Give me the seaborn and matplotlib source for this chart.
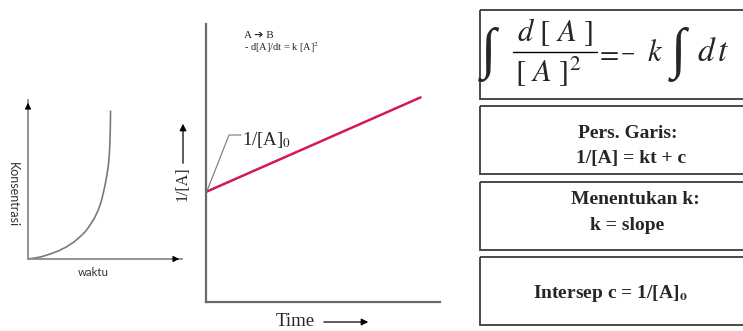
import matplotlib
matplotlib.use('Agg')
import matplotlib.pyplot as plt
import seaborn as sns
from matplotlib.patches import Rectangle

# Values (arbitrary units, axes run 0..10)
waktu = [0, 0.8, 1.43, 2.0, 2.51, 3.0, 3.38, 3.75, 4.03, 4.32, 4.56, 4.75,
         4.89, 5.01, 5.11, 5.2, 5.26, 5.3, 5.32, 5.34, 5.35, 5.36]
konsentrasi = [0, 0.12, 0.31, 0.52, 0.77, 1.08, 1.40, 1.75, 2.14, 2.58, 3.08,
               3.60, 4.15, 4.68, 5.20, 5.75, 6.29, 6.90, 7.48, 8.0, 8.53, 9.30]

time_vals = [0, 9.17]
inv_conc = [3.96, 7.36]

box_texts = [
    ['Pers. Garis:', '1/[A] = kt + c'],
    ['Menentukan k:', 'k = slope'],
    [r'Intersep c = 1/[A]$_{\mathbf{o}}$'],
]

sns.set_style('white')
plt.rcParams['mathtext.fontset'] = 'stix'
plt.rcParams['font.family'] = ['Liberation Serif', 'DejaVu Sans']

W, H = 743, 331
fig = plt.figure(figsize=(W / 100, H / 100), dpi=100)


def px_box(x0, y0, x1, y1):
    # pixel box (top-left origin) -> figure fraction
    return [x0 / W, 1 - y1 / H, (x1 - x0) / W, (y1 - y0) / H]


# small left chart: konsentrasi vs waktu
ax_l = fig.add_axes(px_box(28, 100, 182, 259))
sns.lineplot(x=waktu, y=konsentrasi, ax=ax_l, color='#7a7a7a', lw=1.2,
             sort=False, estimator=None)
ax_l.set_xlim(0, 10)
ax_l.set_ylim(0, 10)
ax_l.set_xticks([])
ax_l.set_yticks([])
for s in ['top', 'right']:
    ax_l.spines[s].set_visible(False)
for s in ['left', 'bottom']:
    ax_l.spines[s].set_color('#8a8a8a')
    ax_l.spines[s].set_linewidth(1.3)
ax_l.annotate('', xy=(0, 1.0), xytext=(0, 0.93), xycoords='axes fraction',
              arrowprops=dict(arrowstyle='-|>', color='black', lw=0.8,
                              mutation_scale=9))
ax_l.annotate('', xy=(1.0, 0), xytext=(0.93, 0), xycoords='axes fraction',
              arrowprops=dict(arrowstyle='-|>', color='black', lw=0.8,
                              mutation_scale=9))
ax_l.patch.set_alpha(0)

# middle chart: 1/[A] vs time
ax_m = fig.add_axes(px_box(206, 24, 440, 302))
sns.lineplot(x=time_vals, y=inv_conc, ax=ax_m, color='#d31a4f', lw=1.8)
ax_m.set_xlim(0, 10)
ax_m.set_ylim(0, 10)
ax_m.set_xticks([])
ax_m.set_yticks([])
for s in ['top', 'right']:
    ax_m.spines[s].set_visible(False)
for s in ['left', 'bottom']:
    ax_m.spines[s].set_color('#6a6a6a')
    ax_m.spines[s].set_linewidth(1.6)
ax_m.patch.set_alpha(0)

# overlay in pixel coordinates for labels and boxes
ov = fig.add_axes([0, 0, 1, 1])
ov.set_xlim(0, W)
ov.set_ylim(H, 0)
ov.axis('off')
ov.patch.set_alpha(0)

sans = ['Lato', 'DejaVu Sans']
ov.text(13, 195, 'Konsentrasi', rotation=270, ha='center', va='center',
        fontsize=9, family=sans, color='#333333')
ov.text(93, 273, 'waktu', ha='center', va='center', fontsize=8.3,
        family=sans, color='#333333')

ov.text(244, 36, 'A ➔ B', ha='left', va='center', fontsize=8)
ov.text(244, 48, r'- d[A]/dt = k [A]$^2$', ha='left', va='center', fontsize=7.5)

# leader line to intercept label
ov.plot([207, 229, 241], [191, 135, 135], color='#777777', lw=0.8)
ov.text(242, 140, r'1/[A]$_0$', ha='left', va='center', fontsize=13.5)

ov.text(183, 184, '1/[A]', rotation=90, ha='center', va='center', fontsize=11.5)
ov.annotate('', xy=(183, 121), xytext=(183, 166),
            arrowprops=dict(arrowstyle='-|>', color='black', lw=0.9,
                            mutation_scale=10))
ov.text(295, 322, 'Time', ha='center', va='center', fontsize=13.5)
ov.annotate('', xy=(371, 322), xytext=(321, 322),
            arrowprops=dict(arrowstyle='-|>', color='black', lw=0.9,
                            mutation_scale=10))

# boxes on the right
boxes = [(10, 99), (106, 174), (182, 250), (257, 325)]
for y0, y1 in boxes:
    ov.add_patch(Rectangle((480, y0), 300, y1 - y0, fill=False,
                           edgecolor='#3c3c3c', lw=1.3, clip_on=False))

# integral equation, assembled from pieces
eq = dict(fontsize=22, va='baseline')
ov.text(488, 54, '∫', ha='center', va='center', fontsize=40)
ov.text(555, 41, r'$d\ [\ A\ ]$', ha='center', **eq)
ov.plot([513, 597], [52, 52], color='black', lw=1.0)
ov.text(548, 82, r'$[\ A\ ]^{2}$', ha='center', **eq)
ov.text(607, 61, r'$=$', ha='center', va='baseline', fontsize=20)
ov.text(628, 58, r'$-$', ha='center', va='baseline', fontsize=15)
ov.text(655, 61, r'$k$', ha='center', **eq)
ov.text(678, 54, '∫', ha='center', va='center', fontsize=40)
ov.text(697, 61, r'$d\,t$', ha='left', va='baseline', fontsize=24)

line_y = [[133, 158], [200, 226], [294]]
line_x = [[628, 631], [635, 627], [610]]
for lines, ys, xs in zip(box_texts, line_y, line_x):
    for t, y, x in zip(lines, ys, xs):
        ov.text(x, y, t, ha='center', va='center', fontsize=14,
                fontweight='bold')

fig.savefig('out.png', dpi=100)
